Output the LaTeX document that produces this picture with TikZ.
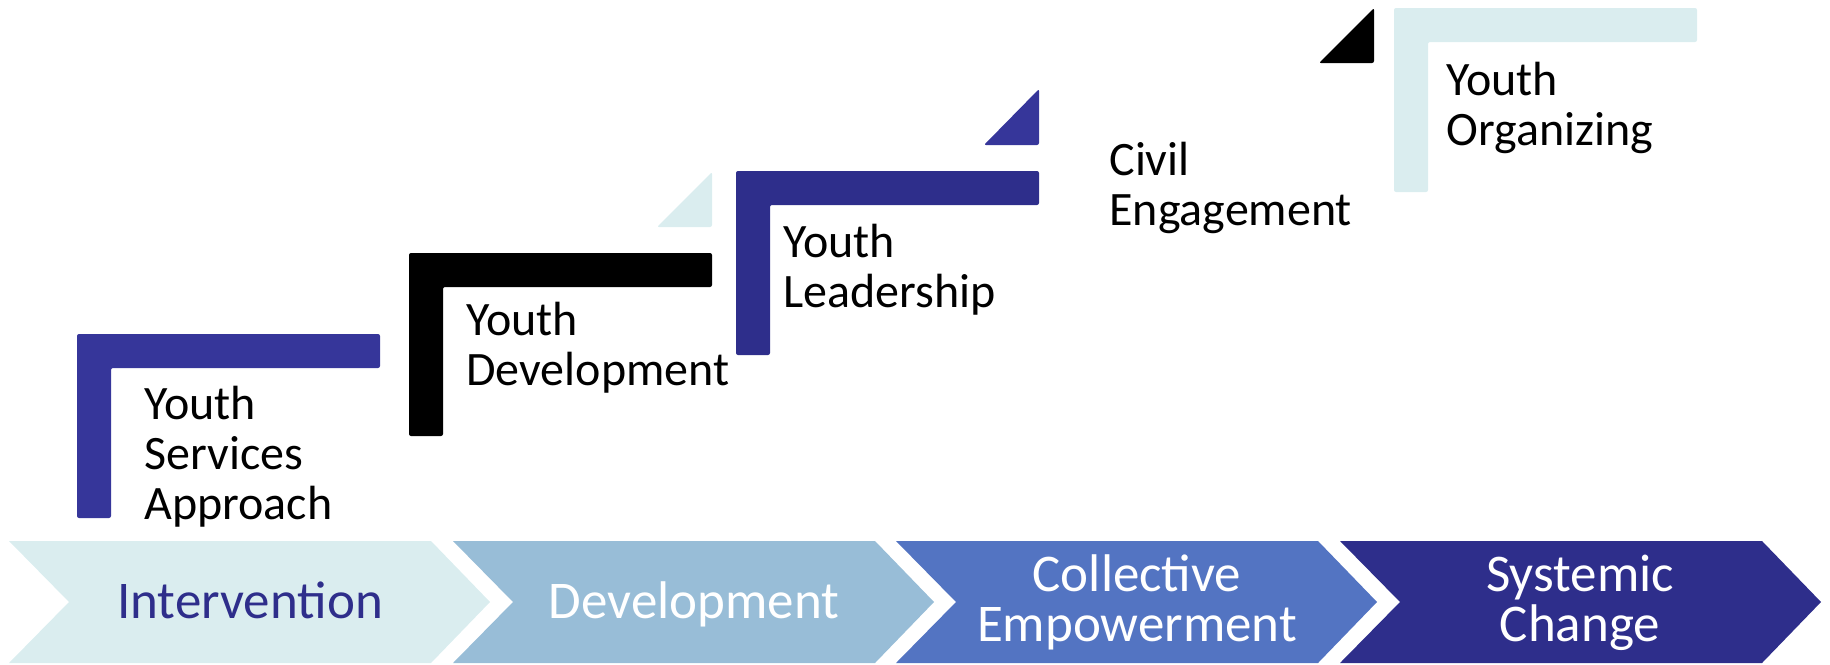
\documentclass[tikz,border=0pt]{standalone}
\usepackage{fontspec}
\setmainfont{Carlito}

\definecolor{paleteal}{HTML}{DAEDEF}
\definecolor{skyblue}{HTML}{98BDD7}
\definecolor{midblue}{HTML}{5374C2}
\definecolor{deepblue}{HTML}{2E2E8B}
\definecolor{stepblue}{HTML}{36369A}

\begin{document}
\begin{tikzpicture}[x=0.5pt, y=-0.5pt,
    steplabel/.style={anchor=base west, align=left, inner sep=0pt,
        font=\fontsize{24}{25}\selectfont},
    stagelabel/.style={anchor=base, align=center, inner sep=0pt,
        font=\fontsize{26.5}{25}\selectfont, text=white},
    stair/.style={rounded corners=1pt}]

    % Margens
    \useasboundingbox (0,0) rectangle (1830,664);

    % Setas (chevrons) das etapas
    \fill[paleteal] (9,541) -- (431,541) -- (490,602) -- (431,663) -- (9,663) -- (69,602) -- cycle;
    \fill[skyblue] (453,541) -- (875,541) -- (934,602) -- (875,663) -- (453,663) -- (513,602) -- cycle;
    \fill[midblue] (896,541) -- (1318,541) -- (1377,602) -- (1318,663) -- (896,663) -- (956,602) -- cycle;
    \fill[deepblue] (1340,541) -- (1762,541) -- (1821,602) -- (1762,663) -- (1340,663) -- (1400,602) -- cycle;

    % Textos das setas (ancorados na linha de base da ultima linha)
    \node[stagelabel, text=deepblue] (intervention) at (250,618) {Intervention};
    \node[stagelabel] (development) at (694,618) {Development};
    \node[stagelabel] (collective) at (1137,641) {Collective\\Empowerment};
    \node[stagelabel] (systemic) at (1580,641) {Systemic\\Change};

    % Degraus (cantoneiras em L)
    \fill[stair, stepblue] (77,334) -- (380,334) -- (380,368) -- (111,368) -- (111,518) -- (77,518) -- cycle;
    \fill[stair, black] (409,253) -- (712,253) -- (712,287) -- (443,287) -- (443,436) -- (409,436) -- cycle;
    \fill[stair, deepblue] (736,171) -- (1039,171) -- (1039,205) -- (770,205) -- (770,355) -- (736,355) -- cycle;
    \fill[stair, paleteal] (1394,8) -- (1697,8) -- (1697,42) -- (1428,42) -- (1428,192) -- (1394,192) -- cycle;

    % Triangulos pequenos
    \fill[stair, paleteal] (657,227) -- (712,227) -- (712,172) -- cycle;
    \fill[stair, stepblue] (984,145) -- (1039,145) -- (1039,89) -- cycle;
    \fill[stair, black] (1319,63) -- (1374,63) -- (1374,8) -- cycle;

    % Rotulos dos degraus
    \node[steplabel] (services) at (144,519) {Youth\\Services\\Approach};
    \node[steplabel] (youthdev) at (466,385) {Youth\\Development};
    \node[steplabel] (leadership) at (783,307) {Youth\\Leadership};
    \node[steplabel] (civil) at (1109,225) {Civil\\Engagement};
    \node[steplabel] (organizing) at (1446,145) {Youth\\Organizing};

\end{tikzpicture}
\end{document}
